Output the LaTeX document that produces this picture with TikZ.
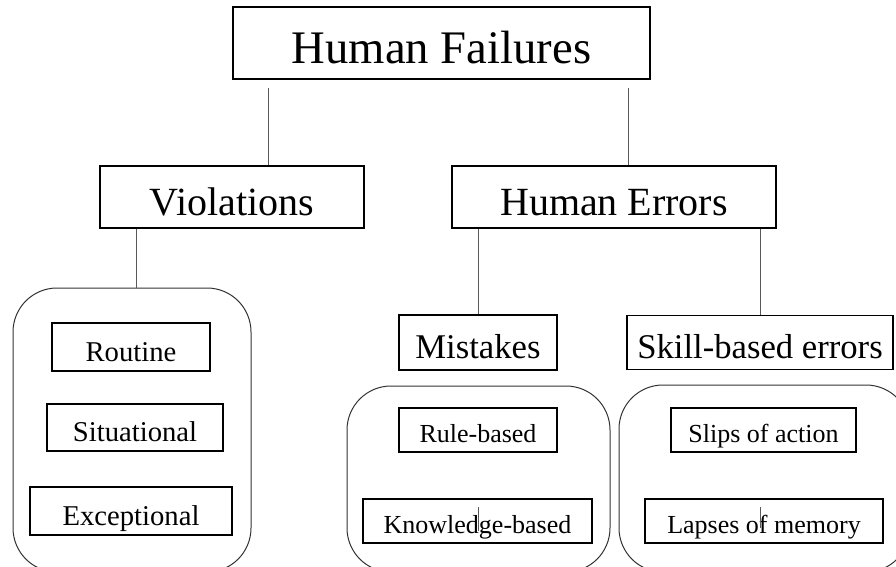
\documentclass[tikz,border=0pt]{standalone}
\usepackage{fontspec}
\setmainfont{Liberation Serif}
\usetikzlibrary{positioning}

\begin{document}
\begin{tikzpicture}[
    x=0.75pt, y=-0.75pt,
    box/.style={rectangle, draw, line width=1.1pt, inner sep=0pt, align=center, text depth=0pt},
    topbox/.style={box, line width=0.8pt},
    size/.style args={#1/#2}{font=\fontsize{#1pt}{#1pt}\selectfont, text height=#2pt},
    group/.style={draw, line width=0.75pt, draw=black!80, rounded corners=33},
    link/.style={line width=0.75pt, draw=black!65},
]
    \useasboundingbox (0,0) rectangle (896,567);
    \clip (0,0) rectangle (896,567);

    % Top level
    \node[topbox, size=35/31, minimum width=417*0.75pt, minimum height=72*0.75pt]
        (failures) at (441.5, 43) {Human Failures};

    % Second level
    \node[box, size=30/28, minimum width=264*0.75pt, minimum height=62*0.75pt]
        (violations) at (232, 197) {Violations};
    \node[box, size=30/28, minimum width=324*0.75pt, minimum height=62*0.75pt]
        (errors) at (614, 197) {Human Errors};

    % Third level
    \node[box, size=26/24.5, minimum width=158*0.75pt, minimum height=55*0.75pt]
        (mistakes) at (478, 342.5) {Mistakes};
    \node[box, size=26/24.5, minimum width=266*0.75pt, minimum height=54*0.75pt]
        (skill) at (760, 342.5) {Skill-based errors};

    % Groups
    \draw[group] (13, 288) rectangle (251, 572);
    \draw[group] (347, 386) rectangle (610, 572);
    \draw[group] (619, 385) rectangle (910, 572);

    % Kinds of violation
    \node[box, size=21.5/21, minimum width=158*0.75pt, minimum height=48*0.75pt]
        (routine) at (131, 347) {Routine};
    \node[box, size=21.5/21, minimum width=176*0.75pt, minimum height=47*0.75pt]
        (situational) at (135, 427.5) {Situational};
    \node[box, size=21.5/21, minimum width=202*0.75pt, minimum height=48*0.75pt]
        (exceptional) at (131, 511) {Exceptional};

    % Kinds of mistake
    \node[box, size=19.5/18.5, minimum width=158*0.75pt, minimum height=44*0.75pt]
        (rule) at (478, 430) {Rule-based};
    \node[box, size=19.5/18.5, minimum width=229*0.75pt, minimum height=44*0.75pt]
        (knowledge) at (477.5, 521) {Knowledge-based};

    % Kinds of skill-based error
    \node[box, size=19.5/18.5, minimum width=185*0.75pt, minimum height=44*0.75pt]
        (slips) at (763.5, 430) {Slips of action};
    \node[box, size=19.5/18.5, minimum width=238*0.75pt, minimum height=44*0.75pt]
        (lapses) at (764, 521) {Lapses of memory};

    % Connectors
    \coordinate (failures left) at (268, 88);
    \coordinate (failures right) at (628, 88);
    \draw[link] (failures left) -- (failures left |- violations.north);
    \draw[link] (failures right) -- (failures right |- errors.north);
    \draw[link] (violations.south -| 136, 0) -- (136, 288);
    \draw[link] (errors.south -| mistakes.north) -- (mistakes.north);
    \draw[link] (errors.south -| skill.north) -- (skill.north);

    % Stray ticks
    \coordinate (knowledge tick) at (478, 507);
    \coordinate (lapses tick) at (760, 507);
    \draw[link] (knowledge tick) -- ++(0, 24);
    \draw[link] (lapses tick) -- ++(0, 21);
\end{tikzpicture}
\end{document}
